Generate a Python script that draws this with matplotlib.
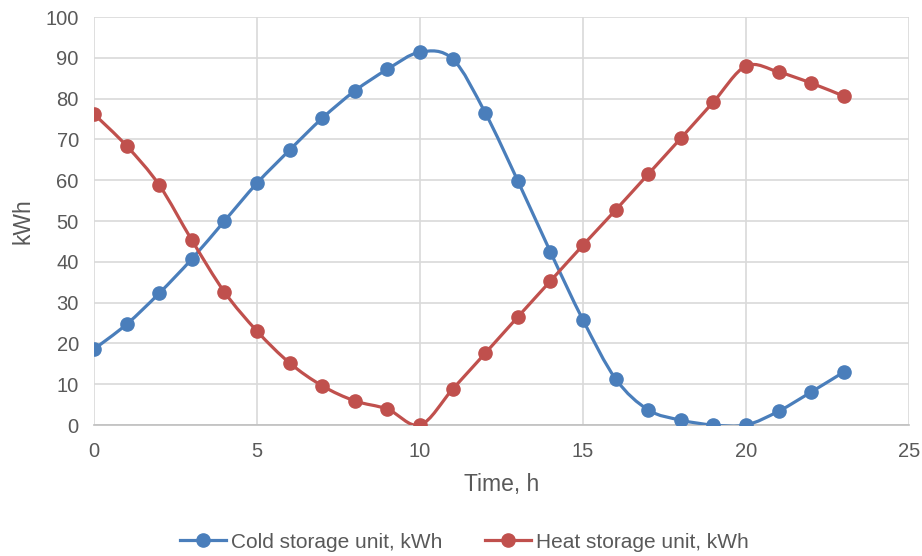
import matplotlib
matplotlib.use("Agg")
import matplotlib.pyplot as plt
from matplotlib.path import Path
from matplotlib.patches import PathPatch
from matplotlib.lines import Line2D

hours = list(range(24))
cold = [18.6, 24.7, 32.3, 40.7, 50.0, 59.3, 67.4, 75.2, 81.9, 87.2, 91.4, 89.7,
        76.5, 59.8, 42.4, 25.7, 11.3, 3.7, 1.2, 0.0, 0.0, 3.4, 8.1, 13.0]
heat = [76.2, 68.4, 58.8, 45.3, 32.6, 23.0, 15.2, 9.6, 5.9, 3.9, 0.0, 8.8,
        17.6, 26.5, 35.3, 44.1, 52.7, 61.5, 70.3, 79.2, 88.0, 86.5, 83.8, 80.6]

blue = "#4A7EBB"
red = "#C0504D"
txt = "#595959"
grid = "#D9D9D9"

plt.rcParams["font.family"] = ["Liberation Sans", "DejaVu Sans"]


def smooth_path(xs, ys):
    # Excel-style smoothed line: cubic Bezier segments (Catmull-Rom control points)
    verts = [(xs[0], ys[0])]
    codes = [Path.MOVETO]
    n = len(xs)
    for i in range(n - 1):
        x0, y0 = (xs[i - 1], ys[i - 1]) if i > 0 else (xs[i], ys[i])
        x1, y1 = xs[i], ys[i]
        x2, y2 = xs[i + 1], ys[i + 1]
        x3, y3 = (xs[i + 2], ys[i + 2]) if i + 2 < n else (xs[i + 1], ys[i + 1])
        c1 = (x1 + (x2 - x0) / 6, y1 + (y2 - y0) / 6)
        c2 = (x2 - (x3 - x1) / 6, y2 - (y3 - y1) / 6)
        verts += [c1, c2, (x2, y2)]
        codes += [Path.CURVE4] * 3
    return Path(verts, codes)


fig = plt.figure(figsize=(9.22, 5.56), dpi=100)
ax = fig.add_axes([0.102, 0.2356, 0.884, 0.7338])

for ys, col in [(cold, blue), (heat, red)]:
    ax.add_patch(PathPatch(smooth_path(hours, ys), facecolor="none",
                           edgecolor=col, lw=2.3, zorder=3, capstyle="round"))
    ax.plot(hours, ys, linestyle="none", marker="o", markersize=9.5,
            color=col, zorder=4)

ax.set_xlim(0, 25)
ax.set_ylim(0, 100)
ax.set_xticks(range(0, 26, 5))
ax.set_yticks(range(0, 101, 10))
ax.grid(True, color=grid, lw=1.2)
ax.set_axisbelow(True)
for s in ["top", "right", "left"]:
    ax.spines[s].set_visible(False)
ax.spines["bottom"].set_color("#BFBFBF")
ax.spines["bottom"].set_linewidth(1.2)
ax.tick_params(length=0, labelsize=14.5, labelcolor=txt)
ax.tick_params(axis="y", pad=11)
ax.tick_params(axis="x", pad=12)
ax.set_xlabel("Time, h", fontsize=16.5, color=txt, labelpad=9)
ax.set_ylabel("kWh", fontsize=16.5, color=txt, labelpad=8)

handles = [Line2D([], [], color=blue, lw=2.3, marker="o", markersize=9.5),
           Line2D([], [], color=red, lw=2.3, marker="o", markersize=9.5)]
leg = fig.legend(handles, ["Cold storage unit, kWh", "Heat storage unit, kWh"],
                 loc="center", bbox_to_anchor=(0.504, 0.025), ncol=2, frameon=False,
                 fontsize=15, handlelength=2.2, handletextpad=0.25, columnspacing=2.05)
for t in leg.get_texts():
    t.set_color(txt)

fig.savefig("out.png", dpi=100)
